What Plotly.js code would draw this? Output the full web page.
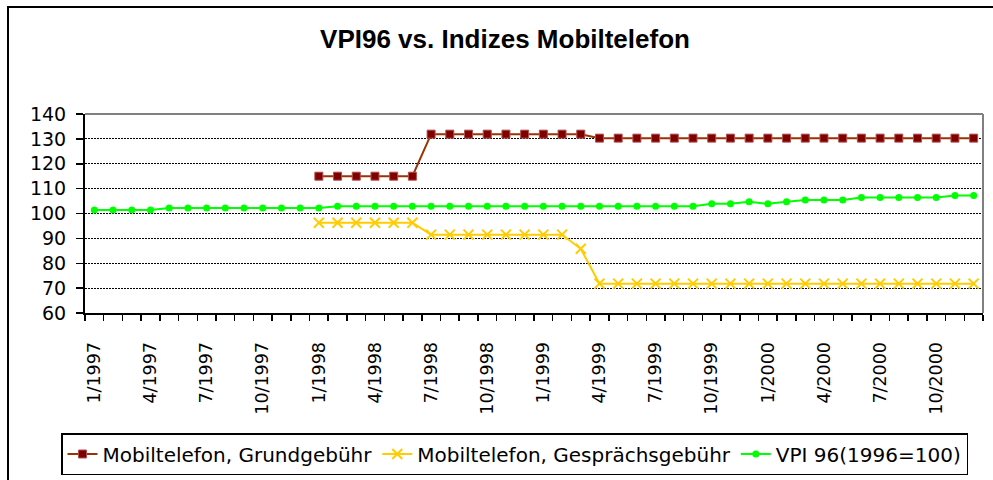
<!DOCTYPE html>
<html><head><meta charset="utf-8">
<script src="https://cdn.plot.ly/plotly-3.0.1.min.js"></script>
<style>html,body{margin:0;padding:0;background:#fff;} #chart{width:993px;height:480px;}</style>
</head><body><div id="chart"></div>
<script>
const months = ["1/1997","2/1997","3/1997","4/1997","5/1997","6/1997","7/1997","8/1997","9/1997","10/1997","11/1997","12/1997",
"1/1998","2/1998","3/1998","4/1998","5/1998","6/1998","7/1998","8/1998","9/1998","10/1998","11/1998","12/1998",
"1/1999","2/1999","3/1999","4/1999","5/1999","6/1999","7/1999","8/1999","9/1999","10/1999","11/1999","12/1999",
"1/2000","2/2000","3/2000","4/2000","5/2000","6/2000","7/2000","8/2000","9/2000","10/2000","11/2000","12/2000"];
const tickLabels = ["1/1997","4/1997","7/1997","10/1997","1/1998","4/1998","7/1998","10/1998","1/1999","4/1999","7/1999","10/1999","1/2000","4/2000","7/2000","10/2000"];
const seriesNames = ["Mobiltelefon, Grundgebühr","Mobiltelefon, Gesprächsgebühr","VPI 96(1996=100)"];
const grundgebuehr = [null,null,null,null,null,null,null,null,null,null,null,null,
115,115,115,115,115,115,131.9,131.9,131.9,131.9,131.9,131.9,
131.9,131.9,131.9,130.3,130.3,130.3,130.3,130.3,130.3,130.3,130.3,130.3,
130.3,130.3,130.3,130.3,130.3,130.3,130.3,130.3,130.3,130.3,130.3,130.3];
const gespraechsgebuehr = [null,null,null,null,null,null,null,null,null,null,null,null,
96.3,96.3,96.3,96.3,96.3,96.3,91.5,91.5,91.5,91.5,91.5,91.5,
91.5,91.5,85.8,71.8,71.8,71.8,71.8,71.8,71.8,71.8,71.8,71.8,
71.8,71.8,71.8,71.8,71.8,71.8,71.8,71.8,71.8,71.8,71.8,71.8];
const vpi96 = [101.4,101.4,101.4,101.4,102.2,102.2,102.2,102.2,102.2,102.2,102.2,102.2,
102.2,102.9,102.9,102.9,102.9,102.9,102.9,102.9,102.9,102.9,102.9,102.9,
102.9,102.9,102.9,102.9,102.9,102.9,102.9,102.9,102.9,103.9,103.9,104.7,
103.9,104.7,105.4,105.4,105.4,106.4,106.4,106.4,106.4,106.4,107.2,107.2];

const W = 993, H = 480, L = 85, R = 983, T = 114, B = 313;
const px = v => (v - L) / (R - L);
const py = v => (B - v) / (B - T);

const traces = [
  {x: months, y: grundgebuehr, name: seriesNames[0], type: "scatter", mode: "lines+markers",
   line: {color: "#993300", width: 2}, marker: {symbol: "square", size: 8, color: "#800000", line: {color: "#b05050", width: 1}}},
  {x: months, y: gespraechsgebuehr, name: seriesNames[1], type: "scatter", mode: "lines+markers",
   line: {color: "#FFCC00", width: 2}, marker: {symbol: "x-thin-open", size: 10, color: "#FFCC00", line: {color: "#FFCC00", width: 2}}},
  {x: months, y: vpi96, name: seriesNames[2], type: "scatter", mode: "lines+markers",
   line: {color: "#00FF00", width: 2}, marker: {symbol: "circle", size: 7, color: "#00FF00"}}
];

const layout = {
  width: W, height: H,
  paper_bgcolor: "#fff", plot_bgcolor: "#fff",
  margin: {l: L, r: W - R, t: T, b: H - B, autoexpand: false},
  title: {text: "VPI96 vs. Indizes Mobiltelefon", x: 505 / W, xref: "container", xanchor: "center",
          y: 1 - 39 / H, yref: "container", yanchor: "middle",
          font: {family: "Liberation Sans, Arial", size: 26, weight: "bold", color: "#000"}},
  xaxis: {type: "category", range: [-0.5, months.length - 0.5], tickmode: "array", tickvals: months,
          ticktext: months.map(m => tickLabels.includes(m) ? m : ""), tickson: "boundaries",
          ticks: "outside", ticklen: 6, tickwidth: 1.5, tickcolor: "#000", tickangle: -90,
          ticklabelstandoff: 20, tickfont: {family: "DejaVu Sans", size: 17.5, color: "#000"},
          showline: true, linecolor: "#000", linewidth: 2, showgrid: false, zeroline: false, fixedrange: true},
  yaxis: {range: [60, 140], tick0: 60, dtick: 10, ticks: "outside", ticklen: 7, tickwidth: 1.5, tickcolor: "#000",
          ticklabelstandoff: 6, tickfont: {family: "DejaVu Sans", size: 19, color: "#000"},
          showline: true, linecolor: "#000", linewidth: 2, showgrid: true, gridcolor: "#000", gridwidth: 1,
          griddash: "2px,1px", zeroline: false, fixedrange: true},
  showlegend: true,
  legend: {orientation: "h", x: px(61), xanchor: "left", y: py(433), yanchor: "top",
           bordercolor: "#000", borderwidth: 1.5, bgcolor: "#fff", itemwidth: 30,
           font: {family: "DejaVu Sans", size: 20, color: "#000"}},
  shapes: [
    {type: "line", xref: "paper", yref: "paper", x0: 0, x1: 1, y0: 1, y1: 1, line: {color: "#808080", width: 2}},
    {type: "line", xref: "paper", yref: "paper", x0: 1, x1: 1, y0: 0, y1: 1, line: {color: "#808080", width: 2}},
    {type: "rect", xref: "paper", yref: "paper", x0: px(8), x1: px(1005), y0: py(495), y1: py(7),
     line: {color: "#000", width: 2}, layer: "below"}
  ]
};
Plotly.newPlot("chart", traces, layout, {staticPlot: true});
</script>
</body></html>
